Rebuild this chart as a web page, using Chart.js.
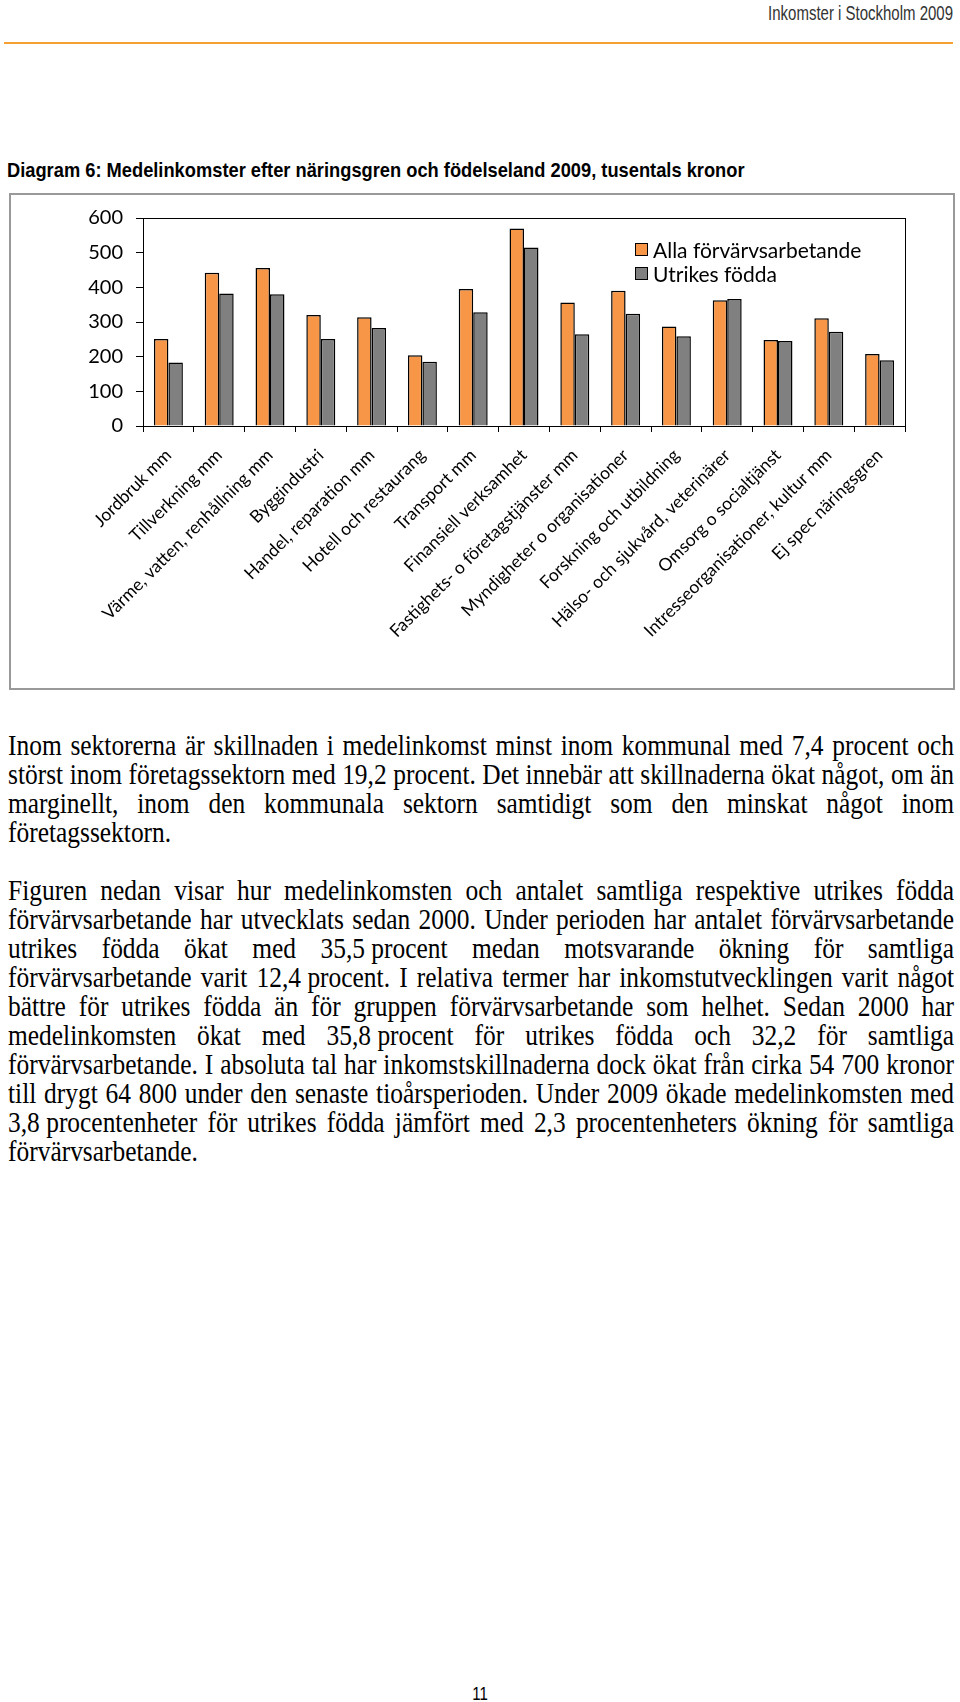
<!DOCTYPE html>
<html><head><meta charset="utf-8">
<script src="https://cdn.jsdelivr.net/npm/chart.js@4.4.1/dist/chart.umd.min.js"></script>
<style>
html,body{margin:0;padding:0;background:#fff}
body{width:960px;height:1702px;position:relative;overflow:hidden}
#hdr{position:absolute;right:7px;top:2px;font-family:"Liberation Sans Narrow","Liberation Sans",Arial,sans-serif;font-size:17px;line-height:1;color:#333;white-space:nowrap;transform-origin:right top}
#rule{position:absolute;left:4px;top:42px;width:949px;height:2px;background:#F5A033}
#title{position:absolute;left:7px;top:160px;font-family:"Liberation Sans",Arial,sans-serif;font-weight:bold;font-size:17px;line-height:1;color:#000;white-space:nowrap;transform-origin:left top}
#box{position:absolute;left:9px;top:193px;width:946px;height:497px;border:2px solid #999;box-sizing:border-box}
#box canvas{position:absolute;left:0;top:0}
.leg{position:absolute;font-family:Lato,"Open Sans",sans-serif;font-size:21px;color:#000;white-space:nowrap;line-height:1}
.legbox{position:absolute;width:13px;height:13px;box-sizing:border-box;border:1.5px solid #000}
.para{position:absolute;left:8px;width:946px;font-family:"Liberation Serif","Times New Roman",Times,serif;color:#000}
.para div{height:29px;line-height:29px;text-align:justify;text-align-last:justify;white-space:normal;transform:scaleY(1.12);transform-origin:50% 55%}
.para div.last{text-align:left;text-align-last:left}
.nb{display:inline-block}
#pg{position:absolute;left:0;width:960px;top:1685px;text-align:center;font-family:"Liberation Sans",Arial,sans-serif;font-size:15px;transform:scaleY(1.2)}
</style></head>
<body>
<div id="hdr">Inkomster i Stockholm 2009</div>
<div id="rule"></div>
<div id="title">Diagram 6: Medelinkomster efter näringsgren och födelseland 2009, tusentals kronor</div>
<div id="box"><canvas id="c" width="942" height="493"></canvas>
  <div class="legbox" style="left:624px;top:48px;background:#F79646"></div>
  <div class="leg" style="left:642px;top:44px">Alla förvärvsarbetande</div>
  <div class="legbox" style="left:624px;top:72px;background:#808080"></div>
  <div class="leg" style="left:642px;top:68px">Utrikes födda</div>
</div>
<div class="para" id="p1" style="top:731px">
<div>Inom sektorerna är skillnaden i medelinkomst minst inom kommunal med 7,4 procent och</div>
<div id="ref">störst inom företagssektorn med 19,2 procent. Det innebär att skillnaderna ökat något, om än</div>
<div>marginellt, inom den kommunala sektorn samtidigt som den minskat något inom</div>
<div class="last">företagssektorn.</div>
</div>
<div class="para" id="p2" style="top:876px">
<div>Figuren nedan visar hur medelinkomsten och antalet samtliga respektive utrikes födda</div>
<div>förvärvsarbetande har utvecklats sedan 2000. Under perioden har antalet förvärvsarbetande</div>
<div>utrikes födda ökat med <span class="nb">35,5&nbsp;procent</span> medan motsvarande ökning för samtliga</div>
<div>förvärvsarbetande varit <span class="nb">12,4&nbsp;procent.</span> I relativa termer har inkomstutvecklingen varit något</div>
<div>bättre för utrikes födda än för gruppen förvärvsarbetande som helhet. Sedan 2000 har</div>
<div>medelinkomsten ökat med <span class="nb">35,8&nbsp;procent</span> för utrikes födda och 32,2 för samtliga</div>
<div>förvärvsarbetande. I absoluta tal har inkomstskillnaderna dock ökat från cirka 54 700 kronor</div>
<div>till drygt 64 800 under den senaste tioårsperioden. Under 2009 ökade medelinkomsten med</div>
<div><span class="nb">3,8&nbsp;procentenheter</span> för utrikes födda jämfört med 2,3 procentenheters ökning för samtliga</div>
<div class="last">förvärvsarbetande.</div>
</div>
<div id="pg">11</div>
<script>
// ---- data ----
const categories = [
  "Jordbruk mm", "Tillverkning mm", "Värme, vatten, renhållning mm", "Byggindustri",
  "Handel, reparation mm", "Hotell och restaurang", "Transport mm", "Finansiell verksamhet",
  "Fastighets- o företagstjänster mm", "Myndigheter o organisationer", "Forskning och utbildning",
  "Hälso- och sjukvård, veterinärer", "Omsorg o socialtjänst", "Intresseorganisationer, kultur mm",
  "Ej spec näringsgren"
];
const seriesNames = ["Alla förvärvsarbetande", "Utrikes födda"];
const allaValues    = [251, 442, 456, 320, 314, 204, 395, 570, 356, 390, 287, 363, 248, 311, 208];
const utrikesValues = [183, 382, 380, 251, 283, 185, 328, 515, 265, 324, 259, 366, 245, 272, 190];
const yTickValues = [0, 100, 200, 300, 400, 500, 600];

// ---- fit text widths (layout only) ----
function fitWidth(el, target, sy){
  const w = el.getBoundingClientRect().width;
  const fs = parseFloat(getComputedStyle(el).fontSize);
  el.style.fontSize = (fs * target / w) + 'px';
  el.style.transform = 'scaleY(' + sy + ')';
}
fitWidth(document.getElementById('hdr'), 185, 1.4);
fitWidth(document.getElementById('title'), 738, 1.15);
(function(){
  const ref = document.getElementById('ref');
  const cv = document.createElement('canvas').getContext('2d');
  cv.font = '100px "Liberation Serif"';
  const w = cv.measureText(ref.textContent).width;
  const fs = 100 * 944 / w;
  document.getElementById('p1').style.fontSize = fs + 'px';
  document.getElementById('p2').style.fontSize = fs + 'px';
})();

const plotFrame = {
  id: 'plotFrame',
  afterDatasetsDraw(chart){
    const a = chart.chartArea, ctx = chart.ctx;
    ctx.save();
    ctx.strokeStyle = '#000'; ctx.lineWidth = 1;
    ctx.strokeRect(Math.round(a.left)+0.5, Math.round(a.top)+0.5, Math.round(a.right-a.left), Math.round(a.bottom-a.top));
    ctx.restore();
  }
};

new Chart(document.getElementById('c'), {
  type: 'bar',
  data: {
    labels: categories,
    datasets: [
      { label: seriesNames[0], data: allaValues, backgroundColor: '#F79646', borderColor: '#000', borderWidth: 1.5,
        categoryPercentage: 0.57, barPercentage: 1.0 },
      { label: seriesNames[1], data: utrikesValues, backgroundColor: '#808080', borderColor: '#000', borderWidth: 1.5,
        categoryPercentage: 0.57, barPercentage: 1.0 }
    ]
  },
  options: {
    responsive: false, animation: false, devicePixelRatio: 1,
    layout: { padding: { top: 23, right: 48, left: 0, bottom: 0 } },
    plugins: { legend: { display: false }, tooltip: { enabled: false }, title: { display: false } },
    scales: {
      x: {
        grid: { display: true, drawOnChartArea: false, offset: true, tickLength: 6, color: '#000', lineWidth: 1 },
        border: { color: '#000', width: 1 },
        ticks: { autoSkip: false, maxRotation: 45, minRotation: 45, color: '#000', padding: 13,
                 font: { family: 'Lato', size: 17.5 } },
        afterFit(s){ s.height = 262; s.paddingLeft = 0; s.paddingRight = 0; }
      },
      y: {
        min: 0, max: 600,
        afterBuildTicks(s){ s.ticks = yTickValues.map(v => ({ value: v })); },
        grid: { drawOnChartArea: false, tickLength: 7, color: '#000', lineWidth: 1 },
        border: { color: '#000', width: 1 },
        ticks: { color: '#000', padding: 13, font: { family: 'Lato', size: 20 } },
        afterFit(s){ s.width = 132; s.paddingTop = 0; s.paddingBottom = 0; }
      }
    }
  },
  plugins: [plotFrame]
});
</script>
</body></html>
